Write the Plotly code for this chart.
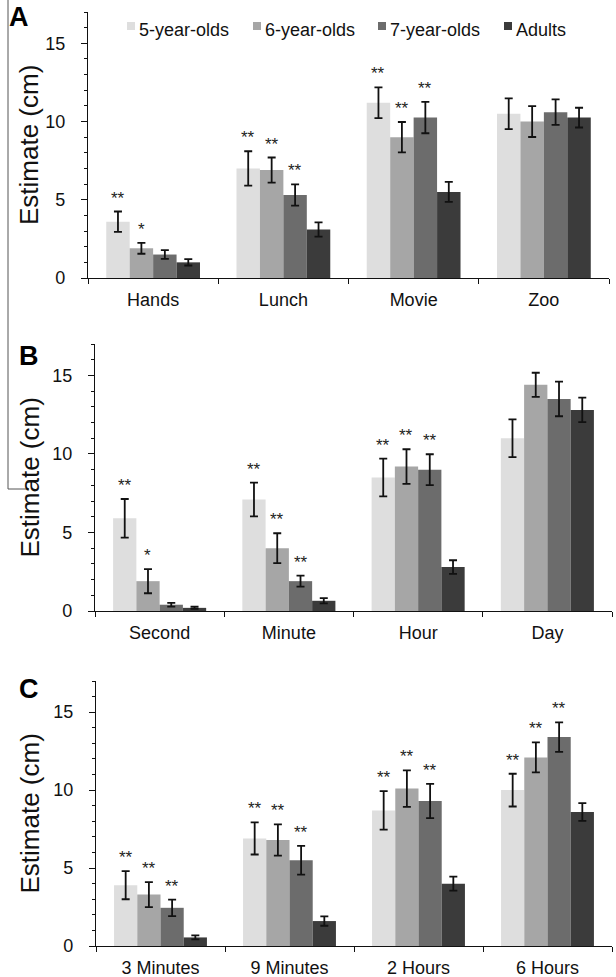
import plotly.graph_objects as go

W, H = 616, 977

groups = ["5-year-olds", "6-year-olds", "7-year-olds", "Adults"]
colors = ["#dedede", "#a6a6a6", "#6c6c6c", "#3b3b3b"]

# Panel A
cats_A = ["Hands", "Lunch", "Movie", "Zoo"]
A_5 = [3.6, 7.0, 11.2, 10.5]
A_5_err = [0.65, 1.1, 0.98, 0.98]
A_6 = [1.9, 6.9, 9.0, 10.0]
A_6_err = [0.35, 0.8, 0.97, 0.99]
A_7 = [1.5, 5.3, 10.25, 10.6]
A_7_err = [0.28, 0.68, 1.0, 0.82]
A_ad = [1.0, 3.1, 5.5, 10.25]
A_ad_err = [0.2, 0.45, 0.64, 0.63]
A_sig = [["**", "**", "**", ""], ["*", "**", "**", ""], ["", "**", "**", ""], ["", "", "", ""]]

# Panel B
cats_B = ["Second", "Minute", "Hour", "Day"]
B_5 = [5.9, 7.1, 8.5, 11.0]
B_5_err = [1.23, 1.07, 1.2, 1.2]
B_6 = [1.9, 4.0, 9.2, 14.4]
B_6_err = [0.77, 0.95, 1.1, 0.77]
B_7 = [0.4, 1.9, 9.0, 13.5]
B_7_err = [0.12, 0.35, 0.98, 1.1]
B_ad = [0.2, 0.65, 2.8, 12.8]
B_ad_err = [0.07, 0.17, 0.43, 0.78]
B_sig = [["**", "**", "**", ""], ["*", "**", "**", ""], ["", "**", "**", ""], ["", "", "", ""]]

# Panel C
cats_C = ["3 Minutes", "9 Minutes", "2 Hours", "6 Hours"]
C_5 = [3.9, 6.9, 8.7, 10.0]
C_5_err = [0.9, 1.03, 1.23, 1.05]
C_6 = [3.3, 6.8, 10.1, 12.1]
C_6_err = [0.8, 1.0, 1.17, 0.96]
C_7 = [2.45, 5.5, 9.3, 13.4]
C_7_err = [0.53, 0.92, 1.1, 0.95]
C_ad = [0.55, 1.6, 4.0, 8.6]
C_ad_err = [0.13, 0.3, 0.45, 0.57]
C_sig = [["**", "**", "**", "**"], ["**", "**", "**", "**"], ["**", "**", "**", "**"], ["", "", "", ""]]

y_ticks = [0, 5, 10, 15]
y_range = [0, 17]
y_title = "Estimate (cm)"
panel_letters = ["A", "B", "C"]

BARGAP = 0.28


def px(x):
    return x / W


def py(y):
    return 1 - y / H


panels = [
    dict(cats=cats_A, vals=[A_5, A_6, A_7, A_ad], errs=[A_5_err, A_6_err, A_7_err, A_ad_err], sig=A_sig,
         xd=[88, 609], yd=[12, 278], letter=(19, 17)),
    dict(cats=cats_B, vals=[B_5, B_6, B_7, B_ad], errs=[B_5_err, B_6_err, B_7_err, B_ad_err], sig=B_sig,
         xd=[95, 612], yd=[344, 611], letter=(29, 356)),
    dict(cats=cats_C, vals=[C_5, C_6, C_7, C_ad], errs=[C_5_err, C_6_err, C_7_err, C_ad_err], sig=C_sig,
         xd=[96, 612], yd=[681, 946], letter=(29, 689)),
]

fig = go.Figure()
annotations = []
shapes = []
layout_axes = {}
base_font = dict(family="Liberation Sans, Arial, sans-serif", size=18, color="#111")

for p_i, p in enumerate(panels):
    suffix = "" if p_i == 0 else str(p_i + 1)
    xref, yref = "x" + suffix, "y" + suffix
    for g_i, g in enumerate(groups):
        fig.add_trace(go.Bar(
            x=p["cats"], y=p["vals"][g_i], name=g,
            marker=dict(color=colors[g_i], line=dict(width=0)),
            error_y=dict(type="data", array=p["errs"][g_i], color="#111", thickness=1.8, width=4),
            xaxis=xref, yaxis=yref, showlegend=False,
        ))
        bw = (1 - BARGAP) / len(groups)
        for c_i, s in enumerate(p["sig"][g_i]):
            if s:
                annotations.append(dict(
                    x=c_i + (g_i - (len(groups) - 1) / 2) * bw,
                    y=p["vals"][g_i][c_i] + p["errs"][g_i][c_i],
                    xref=xref, yref=yref, text=s, showarrow=False,
                    yanchor="bottom", yshift=2,
                    font=dict(family="Liberation Sans, Arial", size=17, color="#222"),
                ))
    layout_axes["xaxis" + suffix] = dict(
        domain=[px(p["xd"][0]), px(p["xd"][1])], anchor=yref, type="category",
        range=[-0.5, 3.5], tickson="boundaries", ticks="outside", ticklen=5, tickcolor="#111",
        showline=True, linecolor="#111", linewidth=1.2, showgrid=False, zeroline=False,
        tickfont=base_font, fixedrange=True, automargin=False, ticklabelstandoff=5,
    )
    layout_axes["yaxis" + suffix] = dict(
        domain=[py(p["yd"][1]), py(p["yd"][0])], anchor=xref, range=y_range,
        tickvals=y_ticks, ticks="outside", ticklen=6, tickcolor="#111",
        minor=dict(ticks="outside", dtick=1, tick0=0, ticklen=3, tickcolor="#111"),
        showline=True, linecolor="#111", linewidth=1.2, showgrid=False, zeroline=False,
        tickfont=base_font, ticklabelstandoff=12, automargin=False,
    )
    # y title
    annotations.append(dict(
        x=px(29), y=py((p["yd"][0] + p["yd"][1]) / 2), xref="paper", yref="paper",
        text=y_title, textangle=-90, showarrow=False, xanchor="center", yanchor="middle",
        font=dict(family="Liberation Sans, Arial", size=26, color="#111"),
    ))
    # panel letter
    annotations.append(dict(
        x=px(p["letter"][0]), y=py(p["letter"][1]), xref="paper", yref="paper",
        text="<b>" + panel_letters[p_i] + "</b>", showarrow=False, xanchor="center", yanchor="middle",
        font=dict(family="Liberation Sans, Arial", size=27, color="#000"),
    ))

# legend (custom, in panel A)
legend_sq_x = [127, 253, 378, 504]
for g_i, g in enumerate(groups):
    x0 = legend_sq_x[g_i]
    shapes.append(dict(type="rect", xref="paper", yref="paper",
                       x0=px(x0), x1=px(x0 + 8), y0=py(30), y1=py(22),
                       fillcolor=colors[g_i], line=dict(width=0)))
    annotations.append(dict(x=px(x0 + 10), y=py(30), xref="paper", yref="paper",
                            text=g, showarrow=False, xanchor="left", yanchor="middle",
                            font=base_font))

# frame lines at left
shapes.append(dict(type="line", xref="paper", yref="paper", x0=px(8), x1=px(8), y0=py(0), y1=py(489),
                   line=dict(color="#555", width=1)))
shapes.append(dict(type="line", xref="paper", yref="paper", x0=px(8), x1=px(29), y0=py(489), y1=py(489),
                   line=dict(color="#555", width=1)))

fig.update_layout(
    template="none",
    width=W, height=H, margin=dict(l=0, r=0, t=0, b=0, autoexpand=False),
    paper_bgcolor="white", plot_bgcolor="white",
    barmode="group", bargap=BARGAP, bargroupgap=0,
    font=base_font, annotations=annotations, shapes=shapes,
    **layout_axes,
)

fig.write_html("out.html")
